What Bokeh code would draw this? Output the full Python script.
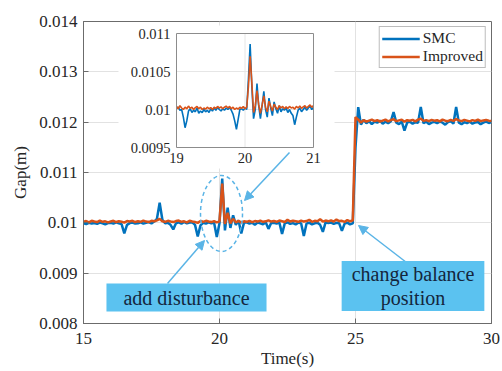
import numpy as np
from bokeh.plotting import figure
from bokeh.models import Range1d, FixedTicker, Label, Arrow, NormalHead, Legend, LegendItem
from bokeh.core.properties import value
from bokeh.embed import file_html
from bokeh.resources import INLINE

# ---------------- data (gap in micrometres) ----------------
smc_um = [
    9990, 9975, 10000, 9985, 9995, 9980, 10005, 9990, 9970, 9995,
    10000, 9985, 10010, 9990, 9975, 9790, 9960, 9995, 10005, 9985,
    9990, 10010, 9985, 10000, 10015, 9990, 10025, 10080, 10400, 10060,
    9990, 10000, 9960, 9870, 9990, 10010, 9985, 10020, 9990, 10005,
    10010, 9960, 9730, 9950, 10000, 9985, 10010, 9990, 10005, 9720,
    9990, 10880, 9850, 10300, 9900, 10150, 9960, 10050, 9790, 10000,
    10010, 9985, 10000, 9960, 10005, 9990, 9970, 10010, 9880, 9995,
    10000, 9985, 10005, 9780, 9990, 10010, 9980, 9995, 9970, 10005,
    9990, 9740, 9985, 10005, 9970, 9990, 10000, 9960, 9820, 10010,
    9995, 10005, 9980, 10000, 9990, 9840, 9985, 10005, 9970, 9990,
    11500, 12300, 11950, 12050, 11980, 12020, 11960, 12010, 11990, 12030,
    11970, 12010, 11980, 12020, 12200, 11990, 11960, 12010, 11830, 11990,
    12010, 11970, 12000, 11990, 12300, 11980, 12010, 11960, 11990, 12005,
    11980, 12010, 11990, 11950, 12000, 12020, 11970, 12300, 11990, 11960,
    12000, 11980, 12010, 11970, 11995, 12005, 11960, 11990, 12010, 11985,
    12000,
]
improved_um = [
    10020, 10035, 10010, 10040, 10025, 10015, 10045, 10020, 10030, 10010,
    10025, 10040, 10015, 10030, 10020, 10005, 10035, 10025, 10040, 10015,
    10030, 10020, 10045, 10025, 10015, 10040, 10030, 10050, 10080, 10030,
    10020, 10040, 10025, 10015, 10035, 10045, 10020, 10030, 10010, 10040,
    10025, 10015, 10000, 10035, 10020, 10040, 10025, 10015, 10035, 10010,
    10030, 10780, 9980, 10200, 9990, 10080, 10010, 10040, 10005, 10030,
    10020, 10040, 10015, 10035, 10025, 10045, 10020, 10030, 10050, 10025,
    10035, 10020, 10045, 10030, 10015, 10060, 10025, 10040, 10030, 10020,
    10045, 10025, 10035, 10060, 10020, 10040, 10030, 10070, 10025, 10045,
    10030, 10050, 10025, 10065, 10035, 10040, 10020, 10055, 10030, 10045,
    12100, 12050, 11990, 12040, 12010, 12030, 12050, 12020, 12040, 12010,
    12030, 12050, 12015, 12040, 12060, 12020, 12035, 12050, 12010, 12040,
    12030, 12045, 12015, 12050, 12070, 12025, 12040, 12020, 12045, 12030,
    12040, 12015, 12050, 12030, 12020, 12045, 12025, 12060, 12035, 12020,
    12045, 12030, 12015, 12040, 12025, 12050, 12020, 12035, 12045, 12030,
    12025,
]
inset_smc_um = [
    10010, 10030, 9990, 10000, 9900, 9760, 9850, 9980, 10010, 9960,
    9990, 9970, 10020, 9950, 9980, 9960, 10000, 9970, 9990, 9960,
    10010, 9980, 10020, 9990, 10030, 10000, 9980, 10010, 9990, 10020,
    10000, 10030, 9990, 9940, 9850, 9740, 9870, 10000, 10010, 9990,
    10020, 10000, 10400, 10860, 10300, 9880, 10000, 10340, 10050, 9880,
    10050, 10240, 10000, 9900, 10150, 10020, 9920, 10100, 10010, 9950,
    10050, 9970, 10010, 9990, 10020, 9960, 10000, 9950, 9920, 9800,
    9900, 9990, 10020, 9970, 10000, 10030, 9990, 10020, 10040, 10000,
    10030,
]
inset_improved_um = [
    10040, 10010, 10050, 10020, 10000, 10030, 10010, 10045, 10015, 10030,
    10000, 10025, 10040, 10010, 10030, 10000, 10020, 10005, 10030, 10010,
    10025, 10000, 10030, 10015, 10040, 10020, 10035, 10010, 10030, 10045,
    10020, 10040, 10010, 10030, 10000, 10020, 10005, 10030, 10015, 10040,
    10010, 10030, 10300, 10700, 10350, 9960, 10050, 10250, 10060, 9950,
    10060, 10180, 10030, 9970, 10110, 10040, 9980, 10070, 10030, 10000,
    10050, 10020, 10040, 10010, 10035, 10015, 10040, 10020, 10030, 10005,
    10040, 10020, 10045, 10015, 10035, 10050, 10020, 10040, 10060, 10030,
    10050,
]

x_ticks = [15, 20, 25, 30]
x_tick_labels = ["15", "20", "25", "30"]
y_ticks = [0.008, 0.009, 0.010, 0.011, 0.012, 0.013, 0.014]
y_tick_labels = ["0.008", "0.009", "0.01", "0.011", "0.012", "0.013", "0.014"]
inset_x_ticks = [19, 20, 21]
inset_x_labels = ["19", "20", "21"]
inset_y_ticks = [0.0095, 0.010, 0.0105, 0.011]
inset_y_labels = ["0.0095", "0.01", "0.0105", "0.011"]

t_main = np.linspace(15, 30, len(smc_um))
gap_smc = np.array(smc_um) / 1e6
gap_imp = np.array(improved_um) / 1e6
t_inset = np.linspace(19, 21, len(inset_smc_um))
inset_smc = np.array(inset_smc_um) / 1e6
inset_imp = np.array(inset_improved_um) / 1e6

# ---------------- layout constants ----------------
W, H = 502, 371
L, R, T, B = 83, 491, 21, 323
X0, X1, Y0, Y1 = 15, 30, 0.008, 0.014
FONT = "Liberation Serif"
BLUE, ORANGE = "#0072BD", "#D95319"
ANN = "#5ab4e6"
BOX = "#5bc2f0"
AX = "#6b6b6b"

def dx(px):
    return X0 + (px - L) / (R - L) * (X1 - X0)

def dy(py):
    return Y1 - (py - T) / (B - T) * (Y1 - Y0)

p = figure(width=W, height=H, x_range=Range1d(X0, X1), y_range=Range1d(Y0, Y1),
           output_backend="svg", toolbar_location=None, title=None,
           min_border_left=L, min_border_right=W - R, min_border_top=T, min_border_bottom=H - B)
p.background_fill_color = "white"
p.border_fill_color = "white"
p.outline_line_color = AX
p.outline_line_width = 1

p.xaxis.ticker = FixedTicker(ticks=x_ticks)
p.yaxis.ticker = FixedTicker(ticks=y_ticks)
p.xaxis.major_label_overrides = dict(zip(x_ticks, x_tick_labels))
p.yaxis.major_label_overrides = dict(zip(y_ticks, y_tick_labels))
p.xaxis.axis_label = "Time(s)"
p.yaxis.axis_label = "Gap(m)"
for ax in (p.xaxis[0], p.yaxis[0]):
    ax.major_label_text_font = FONT
    ax.major_label_text_font_size = "17px"
    ax.major_label_text_color = "#262626"
    ax.axis_label_text_font = FONT
    ax.axis_label_text_font_size = "17px"
    ax.axis_label_text_font_style = "normal"
    ax.axis_label_text_color = "#262626"
    ax.axis_line_color = AX
    ax.major_tick_line_color = AX
    ax.major_tick_in = 5
    ax.major_tick_out = 0
    ax.minor_tick_line_color = None
p.xaxis.major_label_standoff = 9
p.yaxis.major_label_standoff = 6
p.xaxis.axis_label_standoff = 2
p.yaxis.axis_label_standoff = 6

p.xgrid.ticker = FixedTicker(ticks=x_ticks)
p.ygrid.ticker = FixedTicker(ticks=y_ticks)
p.xgrid.grid_line_color = "#e2e2e2"
p.ygrid.grid_line_color = "#e2e2e2"

r_smc = p.line(t_main, gap_smc, line_color=BLUE, line_width=2.5)
r_imp = p.line(t_main, gap_imp, line_color=ORANGE, line_width=2.5)

# white area behind the inset (covers main grid)
p.quad(left=[dx(118)], right=[dx(334)], top=[dy(25)], bottom=[dy(168)],
       fill_color="white", line_color=None)

sub = p.subplot(x_source=Range1d(19, 21), y_source=Range1d(0.0095, 0.011),
                x_target=Range1d(dx(176), dx(313)), y_target=Range1d(dy(147), dy(33)))

sub.segment(x0=inset_x_ticks[1:-1], y0=[0.0095] * (len(inset_x_ticks) - 2),
            x1=inset_x_ticks[1:-1], y1=[0.011] * (len(inset_x_ticks) - 2),
            line_color="#e6e6e6", line_width=1)
sub.segment(x0=[19] * (len(inset_y_ticks) - 2), y0=inset_y_ticks[1:-1],
            x1=[21] * (len(inset_y_ticks) - 2), y1=inset_y_ticks[1:-1],
            line_color="#e6e6e6", line_width=1)
sub.line(t_inset, inset_smc, line_color=BLUE, line_width=1.6)
sub.line(t_inset, inset_imp, line_color=ORANGE, line_width=1.6)
sub.quad(left=[19], right=[21], bottom=[0.0095], top=[0.011],
         fill_color=None, line_color="#8c8c8c", line_width=1)
sub.text(x=[19] * len(inset_y_ticks), y=inset_y_ticks, text=inset_y_labels,
         x_offset=-6, text_align="right", text_baseline="middle",
         text_font=value(FONT), text_font_size="14.5px", text_color="#262626")
sub.text(x=inset_x_ticks, y=[0.0095] * len(inset_x_ticks), text=inset_x_labels,
         y_offset=5, text_align="center", text_baseline="top",
         text_font=value(FONT), text_font_size="14.5px", text_color="#262626")

# dashed ellipse around the disturbance
p.ellipse(x=[dx(221)], y=[dy(213)], width=42, height=76,
          width_units="screen", height_units="screen",
          fill_color=None, line_color=ANN, line_dash="4 3", line_width=1.5)

for (sx, sy, ex, ey) in [(167, 283, 204, 240), (289, 152, 244, 200), (406, 262, 358, 225)]:
    p.add_layout(Arrow(end=NormalHead(size=9, fill_color=ANN, line_color=ANN),
                       x_start=dx(sx), y_start=dy(sy), x_end=dx(ex), y_end=dy(ey),
                       line_color=ANN, line_width=1.5))

p.add_layout(Label(x=dx(186), y=dy(297), text="add disturbance",
                   text_align="center", text_baseline="middle",
                   text_font=FONT, text_font_size="20px", text_color="#14263d",
                   background_fill_color=BOX, padding=(17, 3)))
p.add_layout(Label(x=dx(412.5), y=dy(285.5), text="change balance\nposition",
                   text_align="center", text_baseline="middle", text_line_height=1.1,
                   text_font=FONT, text_font_size="20px", text_color="#14263d",
                   background_fill_color=BOX, padding=(10, 2)))

legend = Legend(items=[LegendItem(label="SMC", renderers=[r_smc]),
                       LegendItem(label="Improved", renderers=[r_imp])],
                location="top_right", margin=5, padding=2, spacing=0,
                glyph_width=38, glyph_height=15, label_height=15, label_standoff=3,
                label_text_font=FONT, label_text_font_size="15.5px",
                label_text_color="#262626", border_line_color="#7a7a7a",
                background_fill_alpha=1)
p.add_layout(legend)

open("out.html", "w").write(file_html(p, INLINE))
